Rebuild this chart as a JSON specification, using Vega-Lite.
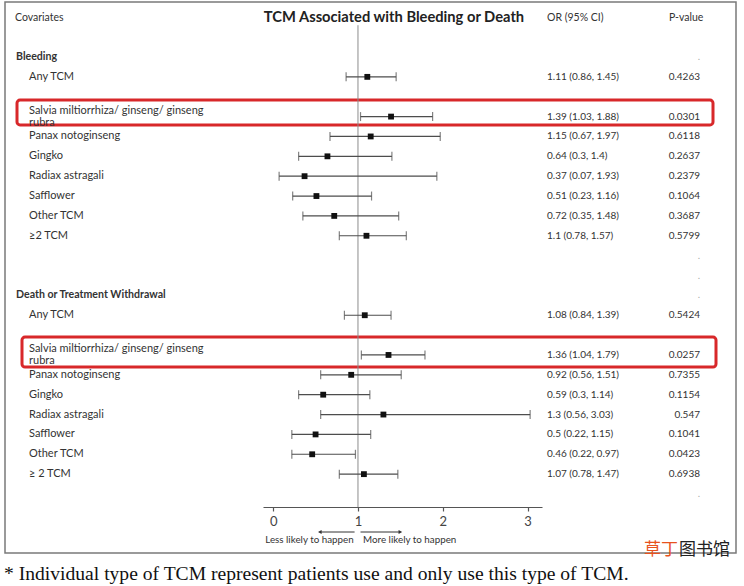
{
  "$schema": "https://vega.github.io/schema/vega-lite/v6.json",
  "width": 731,
  "height": 551,
  "autosize": "none",
  "padding": {"left": 5, "top": 2, "right": 8, "bottom": 33},
  "background": "white",
  "config": {
    "view": {"stroke": "#7a7a7a", "strokeWidth": 1.5},
    "font": "Lato",
    "text": {"font": "Lato", "fontSize": 10, "color": "#333333", "baseline": "middle"}
  },
  "datasets": {
    "rows": [
      {"row": 0, "label": "Bleeding", "kind": "group", "p": "."},
      {"row": 1, "label": "Any TCM", "kind": "item", "or": 1.11, "lo": 0.86, "hi": 1.45, "ci": "1.11 (0.86, 1.45)", "p": "0.4263"},
      {"row": 3, "label": "Salvia miltiorrhiza/ ginseng/ ginseng\nrubra", "kind": "item", "or": 1.39, "lo": 1.03, "hi": 1.88, "ci": "1.39 (1.03, 1.88)", "p": "0.0301"},
      {"row": 4, "label": "Panax notoginseng", "kind": "item", "or": 1.15, "lo": 0.67, "hi": 1.97, "ci": "1.15 (0.67, 1.97)", "p": "0.6118"},
      {"row": 5, "label": "Gingko", "kind": "item", "or": 0.64, "lo": 0.3, "hi": 1.4, "ci": "0.64 (0.3, 1.4)", "p": "0.2637"},
      {"row": 6, "label": "Radiax astragali", "kind": "item", "or": 0.37, "lo": 0.07, "hi": 1.93, "ci": "0.37 (0.07, 1.93)", "p": "0.2379"},
      {"row": 7, "label": "Safflower", "kind": "item", "or": 0.51, "lo": 0.23, "hi": 1.16, "ci": "0.51 (0.23, 1.16)", "p": "0.1064"},
      {"row": 8, "label": "Other TCM", "kind": "item", "or": 0.72, "lo": 0.35, "hi": 1.48, "ci": "0.72 (0.35, 1.48)", "p": "0.3687"},
      {"row": 9, "label": "\u00a0\u00a0≥2 TCM", "kind": "item", "or": 1.1, "lo": 0.78, "hi": 1.57, "ci": "1.1 (0.78, 1.57)", "p": "0.5799"},
      {"row": 10, "kind": "blank", "p": "."},
      {"row": 11, "kind": "blank", "p": "."},
      {"row": 12, "label": "Death or Treatment Withdrawal", "kind": "group", "p": "."},
      {"row": 13, "label": "Any TCM", "kind": "item", "or": 1.08, "lo": 0.84, "hi": 1.39, "ci": "1.08 (0.84, 1.39)", "p": "0.5424"},
      {"row": 15, "label": "Salvia miltiorrhiza/ ginseng/ ginseng\nrubra", "kind": "item", "or": 1.36, "lo": 1.04, "hi": 1.79, "ci": "1.36 (1.04, 1.79)", "p": "0.0257"},
      {"row": 16, "label": "Panax notoginseng", "kind": "item", "or": 0.92, "lo": 0.56, "hi": 1.51, "ci": "0.92 (0.56, 1.51)", "p": "0.7355"},
      {"row": 17, "label": "Gingko", "kind": "item", "or": 0.59, "lo": 0.3, "hi": 1.14, "ci": "0.59 (0.3, 1.14)", "p": "0.1154"},
      {"row": 18, "label": "Radiax astragali", "kind": "item", "or": 1.3, "lo": 0.56, "hi": 3.03, "ci": "1.3 (0.56, 3.03)", "p": "0.547"},
      {"row": 19, "label": "Safflower", "kind": "item", "or": 0.5, "lo": 0.22, "hi": 1.15, "ci": "0.5 (0.22, 1.15)", "p": "0.1041"},
      {"row": 20, "label": "Other TCM", "kind": "item", "or": 0.46, "lo": 0.22, "hi": 0.97, "ci": "0.46 (0.22, 0.97)", "p": "0.0423"},
      {"row": 21, "label": "\u00a0≥ 2 TCM", "kind": "item", "or": 1.07, "lo": 0.78, "hi": 1.47, "ci": "1.07 (0.78, 1.47)", "p": "0.6938"},
      {"row": 22, "kind": "blank", "p": "."}
    ]
  },
  "data": {"name": "rows"},
  "layer": [
    {
      "description": "highlight box, bleeding: Salvia",
      "mark": {"type": "rect", "fill": null, "stroke": "#d8282a", "strokeWidth": 3, "cornerRadius": 3, "x": 12, "x2": 708},
      "data": {"values": [{}]},
      "encoding": {
        "y": {"datum": 2.17, "type": "quantitative", "scale": {"domain": [0, 22], "range": [55, 492]}, "axis": null},
        "y2": {"datum": 3.42}
      }
    },
    {
      "description": "highlight box, death: Salvia",
      "mark": {"type": "rect", "fill": null, "stroke": "#d8282a", "strokeWidth": 3, "cornerRadius": 3, "x": 17, "x2": 711},
      "data": {"values": [{}]},
      "encoding": {
        "y": {"datum": 14.1, "type": "quantitative"},
        "y2": {"datum": 15.61}
      }
    },
    {
      "description": "line of no effect",
      "mark": {"type": "rule", "color": "#8c8c8c", "strokeWidth": 1},
      "data": {"values": [{}]},
      "encoding": {
        "x": {
          "datum": 1, "type": "quantitative",
          "scale": {"domain": [-0.12, 3.17], "range": [258, 537], "nice": false, "zero": false},
          "axis": {
            "values": [0, 1, 2, 3], "format": "d", "title": null, "grid": false, "offset": -46,
            "domainColor": "#555555", "domainWidth": 1.2, "tickColor": "#555555", "tickSize": 4, "tickWidth": 1.2,
            "labelFont": "Lato", "labelFontSize": 13, "labelColor": "#444444", "labelPadding": 4
          }
        },
        "y": {"datum": -1.6, "type": "quantitative"},
        "y2": {"datum": 22.66}
      }
    },
    {
      "transform": [{"filter": "isValid(datum.lo)"}],
      "mark": {"type": "rule", "color": "#4d4d4d", "strokeWidth": 1.2},
      "encoding": {
        "x": {"field": "lo", "type": "quantitative"},
        "x2": {"field": "hi"},
        "y": {"field": "row", "type": "quantitative"}
      }
    },
    {
      "transform": [{"filter": "isValid(datum.lo)"}],
      "mark": {"type": "tick", "orient": "vertical", "color": "#4d4d4d", "size": 9, "thickness": 1.2},
      "encoding": {
        "x": {"field": "lo", "type": "quantitative"},
        "y": {"field": "row", "type": "quantitative"}
      }
    },
    {
      "transform": [{"filter": "isValid(datum.hi)"}],
      "mark": {"type": "tick", "orient": "vertical", "color": "#4d4d4d", "size": 9, "thickness": 1.2},
      "encoding": {
        "x": {"field": "hi", "type": "quantitative"},
        "y": {"field": "row", "type": "quantitative"}
      }
    },
    {
      "transform": [{"filter": "isValid(datum.or)"}],
      "mark": {"type": "point", "shape": "square", "filled": true, "color": "#111111", "size": 34, "opacity": 1},
      "encoding": {
        "x": {"field": "or", "type": "quantitative"},
        "y": {"field": "row", "type": "quantitative"}
      }
    },
    {
      "transform": [{"filter": "datum.kind === 'item' && indexof(datum.label, '\\n') < 0"}],
      "mark": {"type": "text", "align": "left", "x": 24, "fontSize": 11},
      "encoding": {
        "y": {"field": "row", "type": "quantitative"},
        "text": {"field": "label"}
      }
    },
    {
      "description": "two-line covariate names, centred on their row",
      "transform": [{"filter": "datum.kind === 'item' && indexof(datum.label, '\\n') >= 0"}],
      "mark": {"type": "text", "align": "left", "x": 24, "fontSize": 11, "lineBreak": "\n", "lineHeight": 11.5, "dy": -5.5},
      "encoding": {
        "y": {"field": "row", "type": "quantitative"},
        "text": {"field": "label"}
      }
    },
    {
      "transform": [{"filter": "datum.kind === 'group'"}],
      "mark": {"type": "text", "align": "left", "x": 11, "fontWeight": "bold", "fontSize": 10.6},
      "encoding": {
        "y": {"field": "row", "type": "quantitative"},
        "text": {"field": "label"}
      }
    },
    {
      "transform": [{"filter": "isValid(datum.ci)"}],
      "mark": {"type": "text", "align": "left", "x": 542},
      "encoding": {
        "y": {"field": "row", "type": "quantitative"},
        "text": {"field": "ci"}
      }
    },
    {
      "transform": [{"filter": "isValid(datum.p)"}],
      "mark": {"type": "text", "align": "right", "x": 695},
      "encoding": {
        "y": {"field": "row", "type": "quantitative"},
        "text": {"field": "p"},
        "color": {"condition": {"test": "datum.p === '.'", "value": "#aaaaaa"}, "value": "#333333"}
      }
    },
    {
      "data": {"values": [{}]},
      "mark": {"type": "text", "text": "Covariates", "align": "left", "x": 10, "y": 16, "fontSize": 10.5}
    },
    {
      "data": {"values": [{}]},
      "mark": {"type": "text", "text": "TCM Associated with Bleeding or Death", "align": "center", "x": 389, "y": 16, "fontSize": 14.7, "fontWeight": "bold", "color": "#222222"}
    },
    {
      "data": {"values": [{}]},
      "mark": {"type": "text", "text": "OR (95% CI)", "align": "left", "x": 542, "y": 16, "fontSize": 10.5}
    },
    {
      "data": {"values": [{}]},
      "mark": {"type": "text", "text": "P-value", "align": "left", "x": 664, "y": 16, "fontSize": 10.5}
    },
    {
      "description": "direction arrows under the axis",
      "data": {"values": [{}]},
      "mark": {"type": "rule", "color": "#333333", "strokeWidth": 1, "y": 530},
      "encoding": {"x": {"datum": 0.55, "type": "quantitative"}, "x2": {"datum": 0.96}}
    },
    {
      "data": {"values": [{}]},
      "mark": {"type": "rule", "color": "#333333", "strokeWidth": 1, "y": 530},
      "encoding": {"x": {"datum": 1.03, "type": "quantitative"}, "x2": {"datum": 1.5}}
    },
    {
      "data": {"values": [{}]},
      "mark": {"type": "point", "shape": "triangle-left", "filled": true, "color": "#333333", "size": 18, "opacity": 1, "y": 530},
      "encoding": {"x": {"datum": 0.55, "type": "quantitative"}}
    },
    {
      "data": {"values": [{}]},
      "mark": {"type": "point", "shape": "triangle-right", "filled": true, "color": "#333333", "size": 18, "opacity": 1, "y": 530},
      "encoding": {"x": {"datum": 1.5, "type": "quantitative"}}
    },
    {
      "data": {"values": [{}]},
      "mark": {"type": "text", "text": "Less likely to happen", "align": "right", "y": 538, "fontSize": 9.8},
      "encoding": {"x": {"datum": 0.95, "type": "quantitative"}}
    },
    {
      "data": {"values": [{}]},
      "mark": {"type": "text", "text": "More likely to happen", "align": "left", "y": 538, "fontSize": 9.8},
      "encoding": {"x": {"datum": 1.06, "type": "quantitative"}}
    },
    {
      "description": "footnote below the frame",
      "data": {"values": [{}]},
      "mark": {"type": "text", "text": "* Individual type of TCM represent patients use and only use this type of TCM.", "align": "left", "baseline": "alphabetic", "x": -1, "y": 578, "font": "Liberation Serif", "fontSize": 19.6, "color": "#111111"}
    },
    {
      "data": {"values": [{}]},
      "mark": {"type": "text", "text": "草丁", "align": "left", "x": 639, "y": 548, "font": "Noto Sans CJK SC", "fontSize": 17, "color": "#e8521e"}
    },
    {
      "data": {"values": [{}]},
      "mark": {"type": "text", "text": "图书馆", "align": "left", "x": 674, "y": 548, "font": "Noto Sans CJK SC", "fontSize": 17, "color": "#222222"}
    }
  ]
}
